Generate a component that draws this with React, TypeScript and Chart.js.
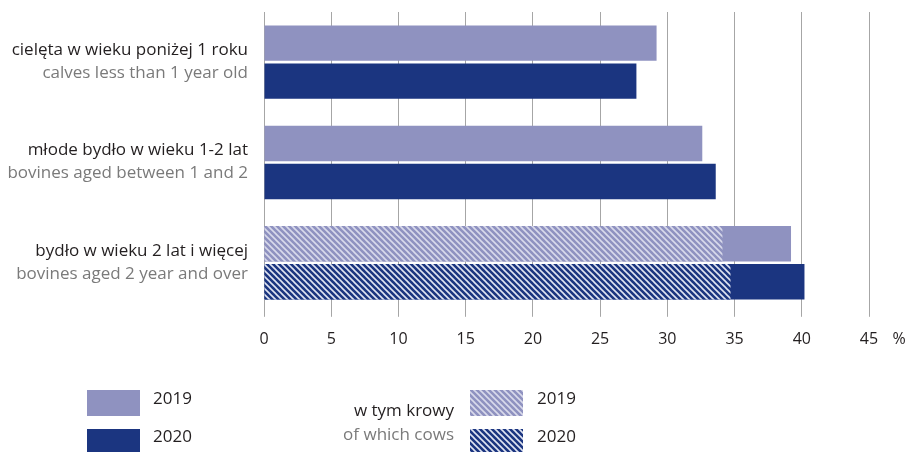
import React, { useEffect, useRef } from "react";
import { Chart, registerables } from "chart.js";

Chart.register(...registerables);

const categoriesPl = ["cielęta w wieku poniżej 1 roku", "młode bydło w wieku 1-2 lat", "bydło w wieku 2 lat i więcej"];
const categoriesEn = ["calves less than 1 year old", "bovines aged between 1 and 2", "bovines aged 2 year and over"];
const values2019 = [29.2, 32.6, 39.2];
const values2020 = [27.7, 33.6, 40.2];
const cows2019 = [null, null, 34.1];
const cows2020 = [null, null, 34.7];
const xTicks = [0, 5, 10, 15, 20, 25, 30, 35, 40, 45];
const legendYears = ["2019", "2020"];
const cowsLabelPl = "w tym krowy";
const cowsLabelEn = "of which cows";

const LIGHT = "#8f92c0";
const DARK = "#1b3580";
const FONT = "'Open Sans', 'Noto Sans', sans-serif";

function makeHatch(bg: string, stripe: string, p = 6, lw = 1.6): CanvasPattern | string {
  const c = document.createElement("canvas");
  c.width = p;
  c.height = p;
  const g = c.getContext("2d");
  if (!g) return bg;
  g.fillStyle = bg;
  g.fillRect(0, 0, p, p);
  g.strokeStyle = stripe;
  g.lineWidth = lw;
  for (let k = -1; k <= 1; k++) {
    g.beginPath();
    g.moveTo(k * p - 1, -1);
    g.lineTo(k * p + p + 1, p + 1);
    g.stroke();
  }
  const pat = g.createPattern(c, "repeat");
  return pat || bg;
}

export default function App() {
  const ref = useRef<HTMLCanvasElement | null>(null);
  useEffect(() => {
    if (!ref.current) return;
    const hatchLight = makeHatch(LIGHT, "rgba(225,226,240,0.9)");
    const hatchDark = makeHatch(DARK, "rgba(235,238,248,0.95)");

    const overlay = {
      id: "overlay",
      afterDraw(chart: any) {
        const ctx = chart.ctx;
        const y = chart.scales.y;
        const x = chart.scales.x;
        ctx.save();
        ctx.textAlign = "right";
        ctx.textBaseline = "middle";
        ctx.font = `17px ${FONT}`;
        categoriesPl.forEach((pl, i) => {
          const cy = y.getPixelForValue(i);
          ctx.fillStyle = "#231f20";
          ctx.fillText(pl, 248, cy - 12);
          ctx.fillStyle = "#7a7a7a";
          ctx.fillText(categoriesEn[i], 248, cy + 11);
        });
        // percent sign, aligned with the tick labels
        ctx.textAlign = "center";
        ctx.fillStyle = "#231f20";
        ctx.font = `16px ${FONT}`;
        ctx.fillText("%", x.right + 30, x.top + 4 + 13 + 10);
        // legend
        ctx.font = `17px ${FONT}`;
        const boxes: [number, number, any][] = [
          [87, 390, LIGHT],
          [87, 429, DARK],
          [470, 390, hatchLight],
          [470, 429, hatchDark],
        ];
        boxes.forEach(([bx, by, fill]) => {
          ctx.fillStyle = fill;
          ctx.fillRect(bx, by, 53, 26);
        });
        ctx.textAlign = "left";
        ctx.fillStyle = "#231f20";
        ctx.fillText(legendYears[0], 153, 399);
        ctx.fillText(legendYears[1], 153, 437);
        ctx.fillText(legendYears[0], 537, 399);
        ctx.fillText(legendYears[1], 537, 437);
        ctx.textAlign = "right";
        ctx.fillText(cowsLabelPl, 454, 411);
        ctx.fillStyle = "#7a7a7a";
        ctx.fillText(cowsLabelEn, 454, 435);
        ctx.restore();
      },
    };

    const chart = new Chart(ref.current, {
      type: "bar",
      data: {
        labels: categoriesPl,
        datasets: [
          { label: "2019", data: values2019, backgroundColor: LIGHT, stack: "a", order: 1, barPercentage: 0.933, categoryPercentage: 0.758 },
          { label: "2020", data: values2020, backgroundColor: DARK, stack: "b", order: 1, barPercentage: 0.933, categoryPercentage: 0.758 },
          { label: "krowy 2019", data: cows2019 as any, backgroundColor: hatchLight as any, stack: "a", order: 0, barPercentage: 0.933, categoryPercentage: 0.758 },
          { label: "krowy 2020", data: cows2020 as any, backgroundColor: hatchDark as any, stack: "b", order: 0, barPercentage: 0.933, categoryPercentage: 0.758 },
        ],
      },
      options: {
        indexAxis: "y",
        animation: false,
        responsive: false,
        events: [],
        layout: { padding: { left: 264, right: 40, top: 12, bottom: 90 } },
        plugins: { legend: { display: false }, tooltip: { enabled: false } },
        scales: {
          x: {
            type: "linear",
            stacked: false,
            min: 0,
            max: 45,
            afterBuildTicks: (axis: any) => {
              axis.ticks = xTicks.map((v) => ({ value: v }));
            },
            grid: { color: "#a6a6a6", lineWidth: 1, tickLength: 4, drawTicks: true, tickColor: "#a6a6a6" },
            border: { display: false },
            ticks: { color: "#231f20", font: { family: FONT, size: 16 }, padding: 13, maxRotation: 0 },
          },
          y: {
            type: "category",
            display: false,
            offset: true,
          },
        },
      },
      plugins: [overlay],
    });
    return () => chart.destroy();
  }, []);

  return (
    <div style={{ position: "absolute", left: 0, top: 0, width: 909, height: 452, background: "#fff" }}>
      <canvas ref={ref} width={909} height={452} style={{ display: "block" }} />
    </div>
  );
}
